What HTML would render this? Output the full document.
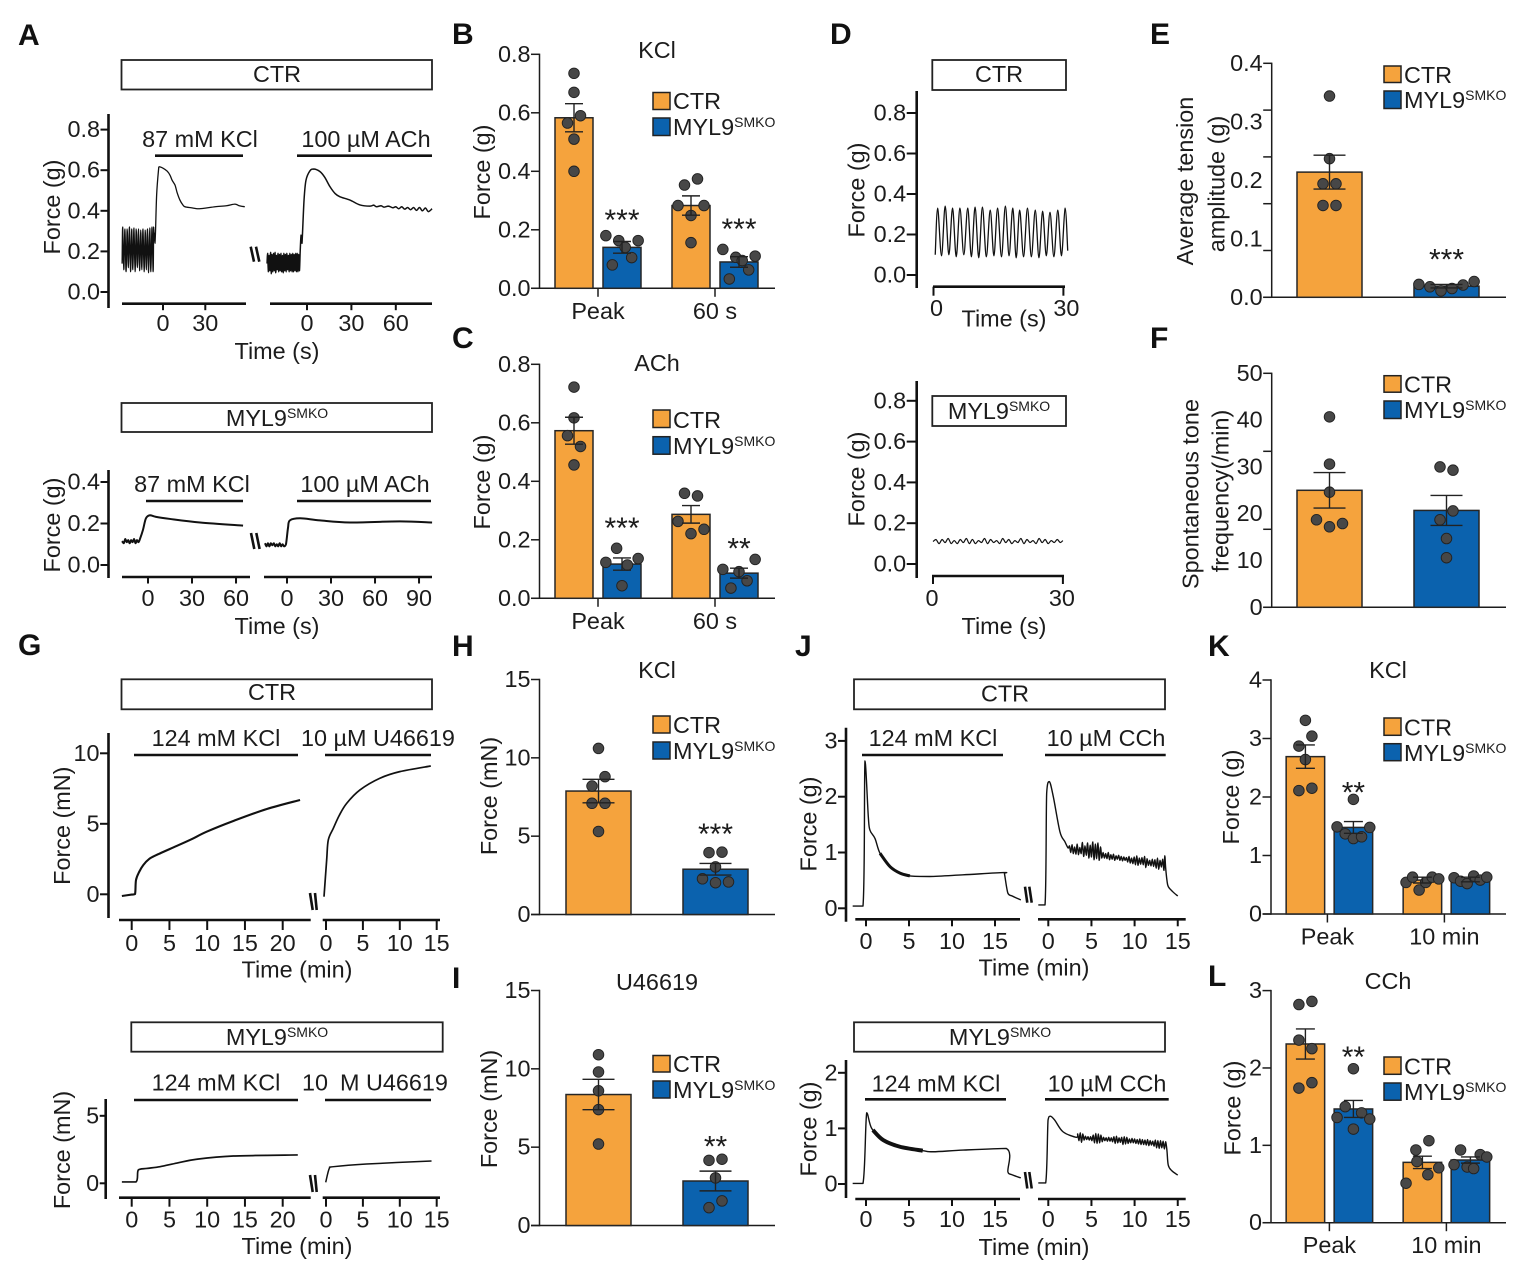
<!DOCTYPE html>
<html lang="en">
<head>
<meta charset="utf-8">
<title>MYL9 SMKO force figure</title>
<style>
html,body{margin:0;padding:0;background:#fff;}
svg{display:block;filter:blur(0.3px);}
text{font-family:"Liberation Sans",sans-serif;font-size:23.4px;fill:#1c1c1c;}
.panel{font-size:30px;font-weight:bold;fill:#111;}
.stars{font-size:30px;}
.box{fill:#fff;stroke:#222;stroke-width:1.8;}
.bar{stroke:#111;stroke-width:2.6;}
.brk{stroke:#111;stroke-width:2.6;}
.mid{text-anchor:middle;}
.sw{stroke:#222;stroke-width:1.5;}
.o{fill:#F5A33D;}
.b{fill:#0B62AE;}
</style>
</head>
<body>
<svg id="figure" xmlns="http://www.w3.org/2000/svg" width="1535" height="1285" viewBox="0 0 1535 1285">
<rect x="0" y="0" width="1535" height="1285" fill="#fff"/>

<g>
<text class="panel" x="18" y="45">A</text>
<text class="panel" x="452" y="44">B</text>
<text class="panel" x="452" y="348">C</text>
<text class="panel" x="830" y="44">D</text>
<text class="panel" x="1150" y="44">E</text>
<text class="panel" x="1150" y="348">F</text>
<text class="panel" x="18" y="655">G</text>
<text class="panel" x="452" y="656">H</text>
<text class="panel" x="452" y="988">I</text>
<text class="panel" x="795" y="656">J</text>
<text class="panel" x="1208" y="656">K</text>
<text class="panel" x="1208" y="986">L</text>
</g>

<!-- Panel A -->
<g>
<rect class="box" x="121.5" y="60" width="310.5" height="29.5"/>
<text class="mid" x="277" y="82">CTR</text>
<text class="mid" x="200" y="147">87 mM KCl</text>
<text class="mid" x="366" y="147">100 µM ACh</text>
<line class="bar" x1="155" x2="243" y1="155.7" y2="155.7"/>
<line class="bar" x1="297" x2="432" y1="155.7" y2="155.7"/>
<text class="mid" transform="translate(60,207) rotate(-90)">Force (g)</text>
<text class="mid" x="277" y="359">Time (s)</text>
<line class="brk" x1="250.7" y1="246.7" x2="254" y2="261.7"/>
<line class="brk" x1="256" y1="246.7" x2="259.3" y2="261.7"/>
<rect class="box" x="121.5" y="403" width="310.5" height="29"/>
<text class="mid" x="277" y="426">MYL9<tspan font-size="14" dy="-8">SMKO</tspan></text>
<text class="mid" x="192" y="492">87 mM KCl</text>
<text class="mid" x="365" y="492">100 µM ACh</text>
<line class="bar" x1="146" x2="243" y1="501" y2="501"/>
<line class="bar" x1="297" x2="431" y1="501" y2="501"/>
<text class="mid" transform="translate(60,525) rotate(-90)">Force (g)</text>
<text class="mid" x="277" y="634">Time (s)</text>
<line class="brk" x1="251" y1="533" x2="254.3" y2="549"/>
<line class="brk" x1="256.3" y1="533" x2="259.6" y2="549"/>
</g>

<!-- Panel B / C -->
<g>
<text class="mid" x="657" y="58">KCl</text>
<text class="mid" transform="translate(490,172) rotate(-90)">Force (g)</text>
<rect class="sw o" x="653" y="92.5" width="17" height="17"/>
<text x="673" y="109">CTR</text>
<rect class="sw b" x="653" y="118" width="17" height="17.5"/>
<text x="673" y="135">MYL9<tspan font-size="14" dy="-8">SMKO</tspan></text>
</g>
<g>
<text class="mid" x="657" y="371">ACh</text>
<text class="mid" transform="translate(490,482) rotate(-90)">Force (g)</text>
<rect class="sw o" x="653" y="410" width="17" height="17.5"/>
<text x="673" y="428">CTR</text>
<rect class="sw b" x="653" y="436.7" width="17" height="17.5"/>
<text x="673" y="454">MYL9<tspan font-size="14" dy="-8">SMKO</tspan></text>
</g>

<!-- Panel D -->
<g>
<rect class="box" x="932.3" y="60" width="133.7" height="30"/>
<text class="mid" x="999" y="82">CTR</text>
<text class="mid" transform="translate(864.5,190) rotate(-90)">Force (g)</text>
<text class="mid" x="1004" y="326.7">Time (s)</text>
<rect class="box" x="932.3" y="396" width="133.7" height="30"/>
<text class="mid" x="999" y="419">MYL9<tspan font-size="14" dy="-8">SMKO</tspan></text>
<text class="mid" transform="translate(864.5,479) rotate(-90)">Force (g)</text>
<text class="mid" x="1004" y="634">Time (s)</text>
</g>

<!-- Panel E / F -->
<g>
<text class="mid" transform="translate(1193,181) rotate(-90)">Average tension</text>
<text class="mid" transform="translate(1224.5,184) rotate(-90)">amplitude (g)</text>
<rect class="sw o" x="1384" y="66" width="17" height="16.5"/>
<text x="1404" y="83">CTR</text>
<rect class="sw b" x="1384" y="91" width="17" height="17.5"/>
<text x="1404" y="108">MYL9<tspan font-size="14" dy="-8">SMKO</tspan></text>
</g>
<g>
<text class="mid" transform="translate(1198.5,494) rotate(-90)">Spontaneous tone</text>
<text class="mid" transform="translate(1228.5,491) rotate(-90)">frequency(/min)</text>
<rect class="sw o" x="1384" y="375.7" width="17" height="16.5"/>
<text x="1404" y="392.7">CTR</text>
<rect class="sw b" x="1384" y="401" width="17" height="17.5"/>
<text x="1404" y="418">MYL9<tspan font-size="14" dy="-8">SMKO</tspan></text>
</g>

<!-- Panel G -->
<g>
<rect class="box" x="121.5" y="679.3" width="310.5" height="30"/>
<text class="mid" x="272" y="700">CTR</text>
<text class="mid" x="216" y="746">124 mM KCl</text>
<text class="mid" x="378" y="746">10 µM U46619</text>
<line class="bar" x1="134" x2="298" y1="755" y2="755"/>
<line class="bar" x1="325" x2="431" y1="755" y2="755"/>
<text class="mid" transform="translate(70,825.7) rotate(-90)">Force (mN)</text>
<text class="mid" x="297" y="977.7">Time (min)</text>
<line class="brk" x1="310" y1="893" x2="312.7" y2="910"/>
<line class="brk" x1="315" y1="893" x2="316.7" y2="910"/>
<rect class="box" x="131.3" y="1022.3" width="311.4" height="29.4"/>
<text class="mid" x="277" y="1045">MYL9<tspan font-size="14" dy="-8">SMKO</tspan></text>
<text class="mid" x="216" y="1090.7">124 mM KCl</text>
<text x="302" y="1090.7">10</text>
<text x="340" y="1090.7">M U46619</text>
<line class="bar" x1="134" x2="298" y1="1100" y2="1100"/>
<line class="bar" x1="325" x2="431" y1="1100" y2="1100"/>
<text class="mid" transform="translate(70,1150) rotate(-90)">Force (mN)</text>
<text class="mid" x="297" y="1254">Time (min)</text>
<line class="brk" x1="310" y1="1175" x2="312.7" y2="1192"/>
<line class="brk" x1="315" y1="1175" x2="316.7" y2="1192"/>
</g>

<!-- Panel H / I -->
<g>
<text class="mid" x="657" y="678">KCl</text>
<text class="mid" transform="translate(497,796) rotate(-90)">Force (mN)</text>
<rect class="sw o" x="653" y="716" width="17" height="17"/>
<text x="673" y="733">CTR</text>
<rect class="sw b" x="653" y="742" width="17" height="17"/>
<text x="673" y="759">MYL9<tspan font-size="14" dy="-8">SMKO</tspan></text>
</g>
<g>
<text class="mid" x="657" y="990">U46619</text>
<text class="mid" transform="translate(497,1109) rotate(-90)">Force (mN)</text>
<rect class="sw o" x="653" y="1055.5" width="17" height="16.5"/>
<text x="673" y="1072">CTR</text>
<rect class="sw b" x="653" y="1081" width="17" height="17"/>
<text x="673" y="1098">MYL9<tspan font-size="14" dy="-8">SMKO</tspan></text>
</g>

<!-- Panel J -->
<g>
<rect class="box" x="854" y="679.3" width="311" height="30"/>
<text class="mid" x="1005" y="701.7">CTR</text>
<text class="mid" x="933" y="746">124 mM KCl</text>
<text class="mid" x="1106" y="746">10 µM CCh</text>
<line class="bar" x1="862" x2="1003" y1="755" y2="755"/>
<line class="bar" x1="1045" x2="1165.7" y1="755" y2="755"/>
<text class="mid" transform="translate(816.5,824) rotate(-90)">Force (g)</text>
<text class="mid" x="1034" y="975.7">Time (min)</text>
<line class="brk" x1="1025" y1="886.7" x2="1027.3" y2="902.7"/>
<line class="brk" x1="1029.3" y1="886.7" x2="1031.7" y2="902.7"/>
<rect class="box" x="854" y="1022.3" width="311" height="29.4"/>
<text class="mid" x="1000" y="1045">MYL9<tspan font-size="14" dy="-8">SMKO</tspan></text>
<text class="mid" x="936" y="1091.7">124 mM KCl</text>
<text class="mid" x="1107" y="1091.7">10 µM CCh</text>
<line class="bar" x1="865" x2="1006" y1="1099.3" y2="1099.3"/>
<line class="bar" x1="1045" x2="1168.7" y1="1099.3" y2="1099.3"/>
<text class="mid" transform="translate(816.5,1129) rotate(-90)">Force (g)</text>
<text class="mid" x="1034" y="1255">Time (min)</text>
<line class="brk" x1="1025" y1="1172" x2="1027.3" y2="1188.5"/>
<line class="brk" x1="1029.3" y1="1172" x2="1031.7" y2="1188.5"/>
</g>

<!-- Panel K / L -->
<g>
<text class="mid" x="1388" y="678">KCl</text>
<text class="mid" transform="translate(1239,797) rotate(-90)">Force (g)</text>
<rect class="sw o" x="1384" y="718" width="17" height="17.3"/>
<text x="1404" y="735.5">CTR</text>
<rect class="sw b" x="1384" y="743.7" width="17" height="17"/>
<text x="1404" y="761">MYL9<tspan font-size="14" dy="-8">SMKO</tspan></text>
</g>
<g>
<text class="mid" x="1388" y="989">CCh</text>
<text class="mid" transform="translate(1240.5,1108) rotate(-90)">Force (g)</text>
<rect class="sw o" x="1384" y="1057" width="17" height="17.3"/>
<text x="1404" y="1074.5">CTR</text>
<rect class="sw b" x="1384" y="1083" width="17" height="17.2"/>
<text x="1404" y="1100">MYL9<tspan font-size="14" dy="-8">SMKO</tspan></text>
</g>
</svg>

<script>
/* ---------- bar-chart data ---------- */
const panelBCategories = ['Peak', '60 s'];
const panelBYTicks = [0, 0.2, 0.4, 0.6, 0.8];
const panelBYLabels = ['0.0', '0.2', '0.4', '0.6', '0.8'];
const panelBCtrMeans = [0.583, 0.283];
const panelBCtrSems = [0.048, 0.033];
const panelBKoMeans = [0.14, 0.09];
const panelBKoSems = [0.02, 0.018];
const panelBCtrPoints = [[0.735, 0.67, 0.565, 0.59, 0.51, 0.40], [0.353, 0.374, 0.283, 0.249, 0.283, 0.156]];
const panelBKoPoints = [[0.18, 0.08, 0.163, 0.14, 0.105, 0.163], [0.133, 0.032, 0.106, 0.095, 0.063, 0.11]];
const panelBStars = ['***', '***'];
const panelBStarLevels = [0.257, 0.227];

const panelCCategories = ['Peak', '60 s'];
const panelCYTicks = [0, 0.2, 0.4, 0.6, 0.8];
const panelCYLabels = ['0.0', '0.2', '0.4', '0.6', '0.8'];
const panelCCtrMeans = [0.573, 0.287];
const panelCCtrSems = [0.046, 0.03];
const panelCKoMeans = [0.117, 0.086];
const panelCKoSems = [0.021, 0.017];
const panelCCtrPoints = [[0.722, 0.617, 0.556, 0.519, 0.456], [0.359, 0.35, 0.263, 0.221, 0.236]];
const panelCKoPoints = [[0.123, 0.171, 0.114, 0.136, 0.043], [0.099, 0.035, 0.091, 0.06, 0.133]];
const panelCStars = ['***', '**'];
const panelCStarLevels = [0.265, 0.195];

const panelECategories = [''];
const panelEYTicks = [0, 0.08, 0.16, 0.24, 0.32, 0.4];
const panelEYLabels = ['0.0', '0.1', '0.2', '0.3', '0.4'];
const panelECtrMeans = [0.214];
const panelECtrSems = [0.029];
const panelEKoMeans = [0.019];
const panelEKoSems = [0.003];
const panelECtrPoints = [[0.344, 0.237, 0.194, 0.194, 0.157, 0.157]];
const panelEKoPoints = [[0.022, 0.018, 0.011, 0.015, 0.021, 0.027]];
const panelEStars = ['***'];
const panelEStarLevels = [0.077];

const panelFCategories = [''];
const panelFYTicks = [0, 16.67, 33.33, 50];
const panelFYLabels = ['0', '10', '20', '30', '40', '50'];
const panelFCtrMeans = [25];
const panelFCtrSems = [3.8];
const panelFKoMeans = [20.7];
const panelFKoSems = [3.2];
const panelFCtrPoints = [[40.7, 30.6, 24.6, 18.7, 17.2, 17.9]];
const panelFKoPoints = [[30, 29.3, 18.7, 20.6, 14.7, 10.6]];
const panelFStars = [''];
const panelFStarLevels = [0];

const panelHCategories = [''];
const panelHYTicks = [0, 5, 10, 15];
const panelHYLabels = ['0', '5', '10', '15'];
const panelHCtrMeans = [7.88];
const panelHCtrSems = [0.75];
const panelHKoMeans = [2.89];
const panelHKoSems = [0.37];
const panelHCtrPoints = [[10.6, 8.2, 8.8, 7.1, 7.1, 5.3]];
const panelHKoPoints = [[3.95, 3.98, 3.04, 2.28, 2.03, 2.08]];
const panelHStars = ['***'];
const panelHStarLevels = [5.6];

const panelICategories = [''];
const panelIYTicks = [0, 5, 10, 15];
const panelIYLabels = ['0', '5', '10', '15'];
const panelICtrMeans = [8.36];
const panelICtrSems = [0.97];
const panelIKoMeans = [2.84];
const panelIKoSems = [0.63];
const panelICtrPoints = [[10.9, 9.8, 8.6, 7.4, 5.2]];
const panelIKoPoints = [[4.16, 4.23, 3.04, 1.14, 1.57]];
const panelIStars = ['**'];
const panelIStarLevels = [5.5];

const panelKCategories = ['Peak', '10 min'];
const panelKYTicks = [0, 1, 2, 3, 4];
const panelKYLabels = ['0', '1', '2', '3', '4'];
const panelKCtrMeans = [2.69, 0.58];
const panelKCtrSems = [0.2, 0.05];
const panelKKoMeans = [1.48, 0.59];
const panelKKoSems = [0.1, 0.04];
const panelKCtrPoints = [[3.31, 2.87, 3.04, 2.64, 2.11, 2.15], [0.54, 0.63, 0.41, 0.54, 0.63, 0.6]];
const panelKKoPoints = [[1.96, 1.49, 1.37, 1.29, 1.32, 1.48], [0.62, 0.56, 0.52, 0.65, 0.58, 0.63]];
const panelKStars = ['**', ''];
const panelKStarLevels = [2.2, 0];

const panelLCategories = ['Peak', '10 min'];
const panelLYTicks = [0, 1, 2, 3];
const panelLYLabels = ['0', '1', '2', '3'];
const panelLCtrMeans = [2.31, 0.78];
const panelLCtrSems = [0.195, 0.08];
const panelLKoMeans = [1.47, 0.81];
const panelLKoSems = [0.11, 0.04];
const panelLCtrPoints = [[2.82, 2.86, 2.36, 2.25, 1.74, 1.81], [0.94, 1.06, 0.51, 0.79, 0.62, 0.71]];
const panelLKoPoints = [[1.99, 1.36, 1.5, 1.21, 1.42, 1.34], [0.75, 0.94, 0.72, 0.7, 0.88, 0.85]];
const panelLStars = ['**', ''];
const panelLStarLevels = [2.23, 0];

/* ---------- trace data: [time, force] ---------- */
const aCtrYLabels = ['0.0', '0.2', '0.4', '0.6', '0.8'];
const aCtrKclTicks = [0, 30];
const aCtrAchTicks = [0, 30, 60];
const traceACtrKcl = [[-29,.14],[-28.6,.32],[-27.8,.11],[-27,.31],[-26.2,.10],[-25.4,.31],[-24.6,.12],[-23.8,.32],[-23,.10],[-22.2,.31],[-21.4,.11],[-20.6,.315],[-19.8,.10],[-19,.31],[-18.2,.12],[-17.4,.31],[-16.6,.105],[-15.8,.305],[-15,.11],[-14.2,.31],[-13.4,.10],[-12.6,.305],[-11.8,.11],[-11,.31],[-10.2,.095],[-9.4,.315],[-8.6,.10],[-7.8,.32],[-7,.10],[-6.6,.32],[-6.3,.27],[-6,.29],[-5.7,.24],[-5.3,.30],[-4.5,.48],[-3.2,.60],[-2.7,.617],[0,.61],[3,.595],[5,.575],[6.5,.55],[8.5,.527],[10,.49],[12,.453],[14,.43],[15.6,.42],[20,.415],[25,.41],[30,.413],[37,.42],[45,.425],[51,.433],[54,.425],[58,.42]];
const traceACtrAch = [[-27,.14],[-26.6,.19],[-26.1,.10],[-25.6,.18],[-25.1,.105],[-24.6,.195],[-24.1,.09],[-23.6,.185],[-23.1,.10],[-22.6,.19],[-22.1,.105],[-21.6,.195],[-21.1,.095],[-20.6,.18],[-20.1,.11],[-19.6,.19],[-19.1,.10],[-18.6,.185],[-18.1,.105],[-17.6,.19],[-17.1,.10],[-16.6,.18],[-16.1,.095],[-15.6,.19],[-15.1,.105],[-14.6,.185],[-14.1,.10],[-13.6,.19],[-13.1,.11],[-12.6,.18],[-12.1,.10],[-11.6,.19],[-11.1,.105],[-10.6,.185],[-10.1,.10],[-9.6,.19],[-9.1,.10],[-8.6,.185],[-8.1,.105],[-7.6,.19],[-7.1,.10],[-6.6,.19],[-6.1,.10],[-5.6,.185],[-5.1,.105],[-4.6,.2],[-4,.28],[-3.4,.24],[-2,.453],[-0.7,.55],[2,.597],[4.7,.606],[8.8,.593],[12,.565],[15.5,.519],[19,.485],[22.3,.469],[29,.453],[35.8,.429],[42.6,.423],[45,.428],[47,.42],[50,.425],[52,.418],[55,.423],[58,.415],[60,.42],[62,.41],[64,.42],[66,.408],[68,.416],[70,.405],[72,.416],[74,.402],[76,.416],[78,.4],[80,.414],[82,.396],[84.5,.41]];
const aKoYLabels = ['0.0', '0.2', '0.4'];
const aKoKclTicks = [0, 30, 60];
const aKoAchTicks = [0, 30, 60, 90];
const traceAKoKcl = [[-17.7,.115],[-16.5,.105],[-15.5,.125],[-14.5,.11],[-13.5,.12],[-12.5,.105],[-11.5,.12],[-10.5,.11],[-9.5,.125],[-8.5,.105],[-7.5,.12],[-6.5,.11],[-5.5,.125],[-3.4,.17],[-1.4,.225],[1.4,.24],[5.5,.232],[15,.222],[35.5,.205],[64.8,.19]];
const traceAKoAch = [[-15,.105],[-14,.09],[-13,.105],[-12,.09],[-11,.105],[-10,.095],[-9,.105],[-8,.09],[-7,.1],[-6,.09],[-5,.105],[-4,.09],[-3,.1],[-2,.09],[-0.7,.1],[.7,.18],[2,.215],[8.9,.225],[22.5,.215],[43,.205],[77,.21],[98.9,.205]];

const dCtrYLabels = ['0.0', '0.2', '0.4', '0.6', '0.8'];
const dCtrXTicks = [0, 30];
const traceDCtr = [[.4,.10],[.96,.33],[1.85,.095],[2.7,.34],[3.55,.10],[4.4,.33],[5.25,.09],[6.1,.33],[7,.10],[7.9,.33],[8.75,.09],[9.6,.335],[10.45,.085],[11.3,.335],[12.2,.09],[13.1,.32],[13.95,.095],[14.8,.33],[15.7,.09],[16.6,.34],[17.45,.095],[18.3,.33],[19.1,.085],[19.9,.32],[20.8,.09],[21.7,.33],[22.6,.09],[23.5,.32],[24.35,.085],[25.2,.315],[26.05,.095],[26.9,.31],[27.8,.09],[28.7,.32],[29.55,.095],[30.4,.33],[31,.12]];
const dKoYLabels = ['0.0', '0.2', '0.4', '0.6', '0.8'];
const dKoXTicks = [0, 30];
const traceDKo = [[0,.11],[.7,.12],[1.4,.10],[2.1,.12],[2.8,.105],[3.5,.125],[4.2,.10],[4.9,.115],[5.6,.10],[6.3,.12],[7,.105],[7.7,.125],[8.4,.10],[9.1,.12],[9.8,.10],[10.5,.115],[11.2,.105],[11.9,.125],[12.6,.10],[13.3,.12],[14,.105],[14.7,.115],[15.4,.10],[16.1,.125],[16.8,.105],[17.5,.12],[18.2,.10],[18.9,.115],[19.6,.105],[20.3,.125],[21,.10],[21.7,.12],[22.4,.105],[23.1,.115],[23.8,.10],[24.5,.125],[25.2,.105],[25.9,.12],[26.6,.10],[27.3,.115],[28,.105],[28.7,.12],[29.4,.105],[30,.115]];

const gCtrYLabels = ['0', '5', '10'];
const gKoYLabels = ['0', '5'];
const gKclTicks = [0, 5, 10, 15, 20];
const gU46619Ticks = [0, 5, 10, 15];
const traceGCtrKcl = [[-1.3,-.12],[0,-.02],[.44,.02],[.57,1.01],[1,1.6],[1.54,2.08],[2.3,2.5],[3.3,2.79],[5.96,3.43],[7.9,3.9],[9.93,4.44],[13.46,5.2],[17.9,6.05],[22.3,6.69]];
const traceGCtrU46619 = [[-.27,-.17],[.09,2.43],[.31,3.85],[.99,4.68],[1.8,5.6],[2.8,6.45],[4.6,7.4],[7.3,8.23],[10,8.7],[14.2,9.1]];
const traceGKoKcl = [[-1.3,.1],[.57,.1],[.88,.99],[2,1.1],[3.75,1.23],[6,1.5],[8.6,1.78],[13.46,2.02],[22,2.1]];
const traceGKoU46619 = [[-.04,.07],[.45,1.11],[1,1.23],[5.5,1.43],[14.3,1.65]];

const jCtrYLabels = ['0', '1', '2', '3'];
const jKoYLabels = ['0', '1', '2'];
const jKclTicks = [0, 5, 10, 15];
const jCchTicks = [0, 5, 10, 15];
const traceJCtrKcl = [[-1.55,.04],[-.35,.04],[-.12,2.64],[.27,1.64],[.46,1.4],[1.05,1.25],[1.63,.985],[2.8,.745],[3.95,.63],[5.1,.58],[7.4,.57],[11.3,.6],[16,.64],[16.1,.62],[16.5,.27],[17,.22],[18,.15]];
const bandJCtrKcl = [[1.63,.985],[2.8,.745],[3.95,.63],[5.1,.58]];
const traceJCtrCch = [[-1.16,.06],[-.38,.06],[-.19,2.06],[.12,2.27],[.58,2.0],[1.35,1.37],[1.9,1.2],[2.3,1.08],[2.45,1.12],[2.6,1.0],[2.75,1.14],[2.9,.98],[3.05,1.1],[3.2,.97],[3.35,1.15],[3.5,.96],[3.65,1.09],[3.8,.98],[3.95,1.18],[4.1,.93],[4.25,1.12],[4.4,.95],[4.55,1.17],[4.7,.9],[4.85,1.13],[5,.92],[5.15,1.19],[5.3,.87],[5.45,1.15],[5.6,.89],[5.75,1.17],[5.9,.86],[6.05,1.1],[6.2,.9],[6.35,1.0],[6.5,.9],[6.65,.98],[6.8,.89],[6.95,1.0],[7.1,.87],[7.25,.96],[7.4,.88],[7.55,.97],[7.7,.86],[7.85,.94],[8,.88],[8.15,.95],[8.3,.86],[8.45,.93],[8.6,.85],[8.75,.92],[8.9,.86],[9.05,.91],[9.2,.83],[9.35,.93],[9.5,.81],[9.65,.9],[9.8,.8],[9.95,.92],[10.1,.78],[10.25,.94],[10.4,.77],[10.55,.9],[10.7,.79],[10.85,.91],[11,.78],[11.15,.93],[11.3,.73],[11.45,.89],[11.6,.77],[11.75,.86],[11.9,.76],[12.05,.88],[12.2,.75],[12.35,.87],[12.5,.72],[12.65,.9],[12.8,.7],[12.95,.86],[13.1,.74],[13.25,.88],[13.4,.68],[13.5,.94],[13.6,.72],[13.75,.5],[13.9,.39],[14.4,.3],[15,.22]];
const traceJKoKcl = [[-1.55,.01],[-.35,.01],[.08,1.28],[.66,1.0],[2,.79],[3.95,.67],[6.6,.6],[7.8,.58],[11.3,.61],[16.3,.64],[16.5,.22],[16.9,.17],[18,.11]];
const bandJKoKcl = [[.8,.97],[2,.79],[3.95,.67],[6.6,.6]];
const traceJKoCch = [[-1.16,.02],[-.3,.02],[-.03,1.15],[.24,1.22],[.74,1.15],[1.7,.94],[3.25,.84],[3.4,.9],[3.55,.78],[3.7,.92],[3.85,.75],[4,.9],[4.15,.79],[4.3,.86],[4.45,.8],[4.6,.85],[4.75,.79],[4.9,.85],[5.05,.78],[5.2,.88],[5.35,.74],[5.5,.91],[5.65,.73],[5.8,.9],[5.95,.74],[6.1,.88],[6.25,.76],[6.4,.84],[6.55,.78],[6.7,.83],[6.85,.77],[7,.84],[7.15,.77],[7.3,.83],[7.45,.76],[7.6,.85],[7.75,.73],[7.9,.86],[8.05,.74],[8.2,.83],[8.35,.75],[8.5,.84],[8.65,.71],[8.8,.85],[8.95,.72],[9.1,.84],[9.25,.73],[9.4,.81],[9.55,.74],[9.7,.82],[9.85,.74],[10,.81],[10.15,.73],[10.3,.8],[10.45,.72],[10.6,.81],[10.75,.71],[10.9,.8],[11.05,.71],[11.2,.79],[11.35,.7],[11.5,.8],[11.65,.69],[11.8,.78],[11.95,.7],[12.1,.77],[12.25,.68],[12.4,.79],[12.55,.65],[12.7,.78],[12.85,.64],[13,.78],[13.15,.65],[13.3,.77],[13.45,.63],[13.6,.76],[13.75,.6],[13.9,.34],[14.3,.24],[15,.16]];

/* ---------- drawing ---------- */
const svg = document.getElementById('figure');
const NS = 'http://www.w3.org/2000/svg';
const INK = '#1c1c1c';

function el(tag, parent, geom) {
  const node = document.createElementNS(NS, tag);
  for (const k in geom) node.setAttribute(k, geom[k]);
  parent.appendChild(node);
  return node;
}

/* cluster nearby values so their dots spread sideways; input order gives left-to-right */
function swarmOffsets(values, yScale, maxSpan) {
  const order = values.map(function (v, i) { return i; }).sort(function (a, b) { return values[b] - values[a]; });
  const offsets = values.map(function () { return 0; });
  let group = [];
  function flush() {
    if (group.length > 1) {
      group.sort(function (a, b) { return a - b; });
      const step = Math.min(13, maxSpan / (group.length - 1));
      group.forEach(function (idx, k) { offsets[idx] = (k - (group.length - 1) / 2) * step; });
    }
    group = [];
  }
  order.forEach(function (idx) {
    if (group.length && Math.abs(yScale(values[group[group.length - 1]]) - yScale(values[idx])) >= 11.5) flush();
    group.push(idx);
  });
  flush();
  return offsets;
}

function drawBarPanel(p) {
  const g = el('g', svg, {});
  
  
  const y = function (v) { return p.yBottom - (v / p.yMax) * (p.yBottom - p.yTop); };
  const groupX = function (i) { return p.groupStart + i * p.groupStep; };

  const yAxis = el('line', g, { x1: p.axisX, x2: p.axisX, y1: p.yTop - 0.7, y2: p.yBottom + 0.7, stroke: INK, 'stroke-width': 1.5 });
  
  
  const xAxis = el('line', g, { x1: p.axisX - 8.5, x2: p.xEnd, y1: p.yBottom, y2: p.yBottom, stroke: INK, 'stroke-width': 1.5 });
  
  

  p.yTicks.forEach(function (v) {
    const t = el('line', g, { x1: p.axisX - 8.5, x2: p.axisX, y1: y(v), y2: y(v), stroke: INK, 'stroke-width': 1.5 });
    
    
  });
  p.yLabels.forEach(function (s) {
    const t = el('text', g, { x: p.axisX - 9, y: y(parseFloat(s)) + 7.5, 'text-anchor': 'end' });
    t.textContent = s;
    
    
  });

  p.categories.forEach(function (cat, i) {
    if (cat) {
      const tx = groupX(i) + p.tickShift;
      const t = el('line', g, { x1: tx, x2: tx, y1: p.yBottom, y2: p.yBottom + 8.5, stroke: INK, 'stroke-width': 1.5 });
      
      
      const l = el('text', g, { x: tx, y: p.yBottom + 30.5, 'text-anchor': 'middle' });
      l.textContent = cat;
      
      
    }
    const series = [
      { key: 'ctr', fill: '#F5A33D', mean: p.ctrMeans[i], sem: p.ctrSems[i], pts: p.ctrPoints[i], dir: -1 },
      { key: 'ko', fill: '#0B62AE', mean: p.koMeans[i], sem: p.koSems[i], pts: p.koPoints[i], dir: 1 }
    ];
    series.forEach(function (s) {
      const cx = groupX(i) + s.dir * p.barOffset;
      const bar = el('rect', g, { x: cx - p.barWidth / 2, y: y(s.mean), width: p.barWidth, height: p.yBottom - y(s.mean), fill: s.fill, stroke: '#262626', 'stroke-width': 1.5 });
      
      

      const off = swarmOffsets(s.pts, y, p.barWidth * 0.85);
      s.pts.forEach(function (v, k) {
        const c = el('circle', g, { cx: cx + off[k], cy: y(v), r: 5.3, fill: '#474747', stroke: '#222', 'stroke-width': 0.9 });
        
        
      });

      const hi = y(s.mean + s.sem);
      const lo = y(s.mean - s.sem);
      const stem = el('line', g, { x1: cx, x2: cx, y1: hi, y2: lo, stroke: '#222', 'stroke-width': 1.4 });
      
      
      [hi, lo].forEach(function (yy) {
        const cap = el('line', g, { x1: cx - p.capWidth / 2, x2: cx + p.capWidth / 2, y1: yy, y2: yy, stroke: '#222', 'stroke-width': 1.4 });
        
        
      });
    });
    if (p.stars[i]) {
      const st = el('text', g, { x: groupX(i) + p.barOffset, y: y(p.starLevels[i]) + 17, 'text-anchor': 'middle', class: 'stars' });
      st.textContent = p.stars[i];
      
      
    }
  });
}

/* smooth curve through the data points; control points are clamped so nothing overshoots */
function tracePath(parent, data, xFn, yFn, width, name) {
  const px = data.map(function (pt) { return [xFn(pt[0]), yFn(pt[1])]; });
  let d = 'M' + px[0][0].toFixed(2) + ' ' + px[0][1].toFixed(2);
  function clamp(v, a, b) { return Math.max(Math.min(a, b), Math.min(Math.max(a, b), v)); }
  for (let i = 0; i < px.length - 1; i++) {
    const p0 = px[Math.max(i - 1, 0)];
    const p1 = px[i];
    const p2 = px[i + 1];
    const p3 = px[Math.min(i + 2, px.length - 1)];
    const c1x = p1[0] + (p2[0] - p0[0]) / 6;
    const c1y = clamp(p1[1] + (p2[1] - p0[1]) / 6, p1[1], p2[1]);
    const c2x = p2[0] - (p3[0] - p1[0]) / 6;
    const c2y = clamp(p2[1] - (p3[1] - p1[1]) / 6, p1[1], p2[1]);
    d += 'C' + c1x.toFixed(2) + ' ' + c1y.toFixed(2) + ' ' + c2x.toFixed(2) + ' ' + c2y.toFixed(2) + ' ' + p2[0].toFixed(2) + ' ' + p2[1].toFixed(2);
  }
  const path = el('path', parent, { d: d, fill: 'none', stroke: '#111', 'stroke-width': width, 'stroke-linejoin': 'round' });
  
  
}

function drawTracePanel(p) {
  const g = el('g', svg, {});
  
  
  const y = function (v) { return p.zeroY - v * p.yScale; };

  const yAxis = el('line', g, { x1: p.axisX, x2: p.axisX, y1: p.axisTop, y2: p.axisBottom, stroke: '#111', 'stroke-width': 2.6 });
  
  
  p.yLabels.forEach(function (s) {
    const v = parseFloat(s);
    const t = el('line', g, { x1: p.axisX - p.tickLen, x2: p.axisX, y1: y(v), y2: y(v), stroke: '#111', 'stroke-width': 2 });
    
    
    const l = el('text', g, { x: p.axisX - p.tickLen - 0.5, y: y(v) + 7.5, 'text-anchor': 'end' });
    l.textContent = s;
    
    
  });

  p.segments.forEach(function (s) {
    const x = function (t) { return s.origin + t * s.pxPerUnit; };
    const ax = el('line', g, { x1: s.x0, x2: s.x1, y1: p.xAxisY, y2: p.xAxisY, stroke: '#111', 'stroke-width': 2.6 });
    
    
    s.ticks.forEach(function (t) {
      const tk = el('line', g, { x1: x(t), x2: x(t), y1: p.xAxisY, y2: p.xAxisY + p.xTickLen, stroke: '#111', 'stroke-width': 2 });
      
      
      const lb = el('text', g, { x: x(t) + (s.labelDx || 0), y: p.labelY, 'text-anchor': 'middle' });
      lb.textContent = String(t);
      
      
    });
    tracePath(g, s.data, x, y, s.width, 'trace-' + p.id + '-' + s.key);
    if (s.band) tracePath(g, s.band, x, y, s.bandWidth, 'trace-band-' + p.id + '-' + s.key);
  });
}

/* Bar panels */
const columnLeft = { axisX: 539.5, xEnd: 775 };
const columnRight = { axisX: 1271.7, xEnd: 1506 };
drawBarPanel({ id: 'b', axisX: columnLeft.axisX, xEnd: columnLeft.xEnd, yTop: 54.3, yBottom: 288.3, yMax: 0.8, groupStart: 598, groupStep: 117, barOffset: 24, barWidth: 38, capWidth: 18, tickShift: 0,
  categories: panelBCategories, yTicks: panelBYTicks, yLabels: panelBYLabels, ctrMeans: panelBCtrMeans, ctrSems: panelBCtrSems, koMeans: panelBKoMeans, koSems: panelBKoSems, ctrPoints: panelBCtrPoints, koPoints: panelBKoPoints, stars: panelBStars, starLevels: panelBStarLevels });
drawBarPanel({ id: 'c', axisX: columnLeft.axisX, xEnd: columnLeft.xEnd, yTop: 364.3, yBottom: 598.3, yMax: 0.8, groupStart: 598, groupStep: 117, barOffset: 24, barWidth: 38, capWidth: 18, tickShift: 0,
  categories: panelCCategories, yTicks: panelCYTicks, yLabels: panelCYLabels, ctrMeans: panelCCtrMeans, ctrSems: panelCCtrSems, koMeans: panelCKoMeans, koSems: panelCKoSems, ctrPoints: panelCCtrPoints, koPoints: panelCKoPoints, stars: panelCStars, starLevels: panelCStarLevels });
drawBarPanel({ id: 'e', axisX: columnRight.axisX, xEnd: columnRight.xEnd, yTop: 63.3, yBottom: 297.3, yMax: 0.4, groupStart: 1388, groupStep: 0, barOffset: 58.5, barWidth: 65, capWidth: 32, tickShift: 0,
  categories: panelECategories, yTicks: panelEYTicks, yLabels: panelEYLabels, ctrMeans: panelECtrMeans, ctrSems: panelECtrSems, koMeans: panelEKoMeans, koSems: panelEKoSems, ctrPoints: panelECtrPoints, koPoints: panelEKoPoints, stars: panelEStars, starLevels: panelEStarLevels });
drawBarPanel({ id: 'f', axisX: columnRight.axisX, xEnd: columnRight.xEnd, yTop: 373.3, yBottom: 607.3, yMax: 50, groupStart: 1388, groupStep: 0, barOffset: 58.5, barWidth: 65, capWidth: 32, tickShift: 0,
  categories: panelFCategories, yTicks: panelFYTicks, yLabels: panelFYLabels, ctrMeans: panelFCtrMeans, ctrSems: panelFCtrSems, koMeans: panelFKoMeans, koSems: panelFKoSems, ctrPoints: panelFCtrPoints, koPoints: panelFKoPoints, stars: panelFStars, starLevels: panelFStarLevels });
drawBarPanel({ id: 'h', axisX: columnLeft.axisX, xEnd: columnLeft.xEnd, yTop: 679.5, yBottom: 914.5, yMax: 15, groupStart: 657, groupStep: 0, barOffset: 58.5, barWidth: 65, capWidth: 32, tickShift: 0,
  categories: panelHCategories, yTicks: panelHYTicks, yLabels: panelHYLabels, ctrMeans: panelHCtrMeans, ctrSems: panelHCtrSems, koMeans: panelHKoMeans, koSems: panelHKoSems, ctrPoints: panelHCtrPoints, koPoints: panelHKoPoints, stars: panelHStars, starLevels: panelHStarLevels });
drawBarPanel({ id: 'i', axisX: columnLeft.axisX, xEnd: columnLeft.xEnd, yTop: 990.5, yBottom: 1225.5, yMax: 15, groupStart: 657, groupStep: 0, barOffset: 58.5, barWidth: 65, capWidth: 32, tickShift: 0,
  categories: panelICategories, yTicks: panelIYTicks, yLabels: panelIYLabels, ctrMeans: panelICtrMeans, ctrSems: panelICtrSems, koMeans: panelIKoMeans, koSems: panelIKoSems, ctrPoints: panelICtrPoints, koPoints: panelIKoPoints, stars: panelIStars, starLevels: panelIStarLevels });
drawBarPanel({ id: 'k', axisX: 1271, xEnd: 1506, yTop: 680, yBottom: 914, yMax: 4, groupStart: 1329.4, groupStep: 117, barOffset: 24, barWidth: 38.5, capWidth: 19, tickShift: -2,
  categories: panelKCategories, yTicks: panelKYTicks, yLabels: panelKYLabels, ctrMeans: panelKCtrMeans, ctrSems: panelKCtrSems, koMeans: panelKKoMeans, koSems: panelKKoSems, ctrPoints: panelKCtrPoints, koPoints: panelKKoPoints, stars: panelKStars, starLevels: panelKStarLevels });
drawBarPanel({ id: 'l', axisX: 1271, xEnd: 1506, yTop: 990.6, yBottom: 1222.7, yMax: 3, groupStart: 1329.4, groupStep: 117, barOffset: 24, barWidth: 38.5, capWidth: 19, tickShift: 0,
  categories: panelLCategories, yTicks: panelLYTicks, yLabels: panelLYLabels, ctrMeans: panelLCtrMeans, ctrSems: panelLCtrSems, koMeans: panelLKoMeans, koSems: panelLKoSems, ctrPoints: panelLCtrPoints, koPoints: panelLKoPoints, stars: panelLStars, starLevels: panelLStarLevels });

/* Trace panels */
drawTracePanel({ id: 'a-ctr', axisX: 108.5, axisTop: 114, axisBottom: 308, zeroY: 292, yScale: 203, tickLen: 8, yLabels: aCtrYLabels, xAxisY: 303.7, xTickLen: 6.5, labelY: 331,
  segments: [
    { key: 'kcl', x0: 122, x1: 246, origin: 163, pxPerUnit: 1.41, ticks: aCtrKclTicks, data: traceACtrKcl, width: 1.3 },
    { key: 'ach', x0: 270, x1: 432, origin: 307, pxPerUnit: 1.48, ticks: aCtrAchTicks, data: traceACtrAch, width: 1.5 }
  ] });
drawTracePanel({ id: 'a-ko', axisX: 108.5, axisTop: 470, axisBottom: 578, zeroY: 565, yScale: 207.5, tickLen: 8, yLabels: aKoYLabels, xAxisY: 577, xTickLen: 6.5, labelY: 606,
  segments: [
    { key: 'kcl', x0: 122, x1: 250, origin: 148, pxPerUnit: 1.467, ticks: aKoKclTicks, data: traceAKoKcl, width: 2 },
    { key: 'ach', x0: 264, x1: 432, origin: 287, pxPerUnit: 1.467, ticks: aKoAchTicks, data: traceAKoAch, width: 2 }
  ] });
drawTracePanel({ id: 'd-ctr', axisX: 916.7, axisTop: 91, axisBottom: 288, zeroY: 275, yScale: 202.5, tickLen: 10, yLabels: dCtrYLabels, xAxisY: 286.7, xTickLen: 9, labelY: 316,
  segments: [
    { key: 'spontaneous', x0: 933, x1: 1065, origin: 933.5, pxPerUnit: 4.33, ticks: dCtrXTicks, data: traceDCtr, width: 1.3, labelDx: 3 }
  ] });
drawTracePanel({ id: 'd-ko', axisX: 916.7, axisTop: 381, axisBottom: 578, zeroY: 564, yScale: 204, tickLen: 10, yLabels: dKoYLabels, xAxisY: 576, xTickLen: 8, labelY: 606,
  segments: [
    { key: 'spontaneous', x0: 932, x1: 1064, origin: 933, pxPerUnit: 4.33, ticks: dKoXTicks, data: traceDKo, width: 1.2, labelDx: -1 }
  ] });
drawTracePanel({ id: 'g-ctr', axisX: 108.5, axisTop: 733, axisBottom: 918, zeroY: 894.3, yScale: 14.1, tickLen: 8.5, yLabels: gCtrYLabels, xAxisY: 920, xTickLen: 10, labelY: 951,
  segments: [
    { key: 'kcl', x0: 119, x1: 310.7, origin: 131.7, pxPerUnit: 7.55, ticks: gKclTicks, data: traceGCtrKcl, width: 2.1 },
    { key: 'u46619', x0: 322.7, x1: 440, origin: 326, pxPerUnit: 7.38, ticks: gU46619Ticks, data: traceGCtrU46619, width: 1.7 }
  ] });
drawTracePanel({ id: 'g-ko', axisX: 105.7, axisTop: 1099, axisBottom: 1199, zeroY: 1183.3, yScale: 13.5, tickLen: 6, yLabels: gKoYLabels, xAxisY: 1197.7, xTickLen: 9, labelY: 1227.5,
  segments: [
    { key: 'kcl', x0: 119, x1: 310.7, origin: 131.7, pxPerUnit: 7.55, ticks: gKclTicks, data: traceGKoKcl, width: 1.7 },
    { key: 'u46619', x0: 322.7, x1: 440, origin: 326, pxPerUnit: 7.38, ticks: gU46619Ticks, data: traceGKoU46619, width: 1.5 }
  ] });
drawTracePanel({ id: 'j-ctr', axisX: 846, axisTop: 727.7, axisBottom: 921.7, zeroY: 908.3, yScale: 55.8, tickLen: 8, yLabels: jCtrYLabels, xAxisY: 919.3, xTickLen: 7, labelY: 949,
  segments: [
    { key: 'kcl', x0: 855.3, x1: 1020, origin: 866, pxPerUnit: 8.6, ticks: jKclTicks, data: traceJCtrKcl, width: 1.4, band: bandJCtrKcl, bandWidth: 3 },
    { key: 'cch', x0: 1038, x1: 1185.7, origin: 1048.3, pxPerUnit: 8.63, ticks: jCchTicks, data: traceJCtrCch, width: 1.4 }
  ] });
drawTracePanel({ id: 'j-ko', axisX: 846, axisTop: 1060, axisBottom: 1198, zeroY: 1184, yScale: 55.6, tickLen: 8, yLabels: jKoYLabels, xAxisY: 1199, xTickLen: 7, labelY: 1227,
  segments: [
    { key: 'kcl', x0: 855.3, x1: 1020, origin: 866, pxPerUnit: 8.6, ticks: jKclTicks, data: traceJKoKcl, width: 1.4, band: bandJKoKcl, bandWidth: 4 },
    { key: 'cch', x0: 1038, x1: 1185.7, origin: 1048.3, pxPerUnit: 8.63, ticks: jCchTicks, data: traceJKoCch, width: 1.4 }
  ] });
</script>
</body>
</html>
